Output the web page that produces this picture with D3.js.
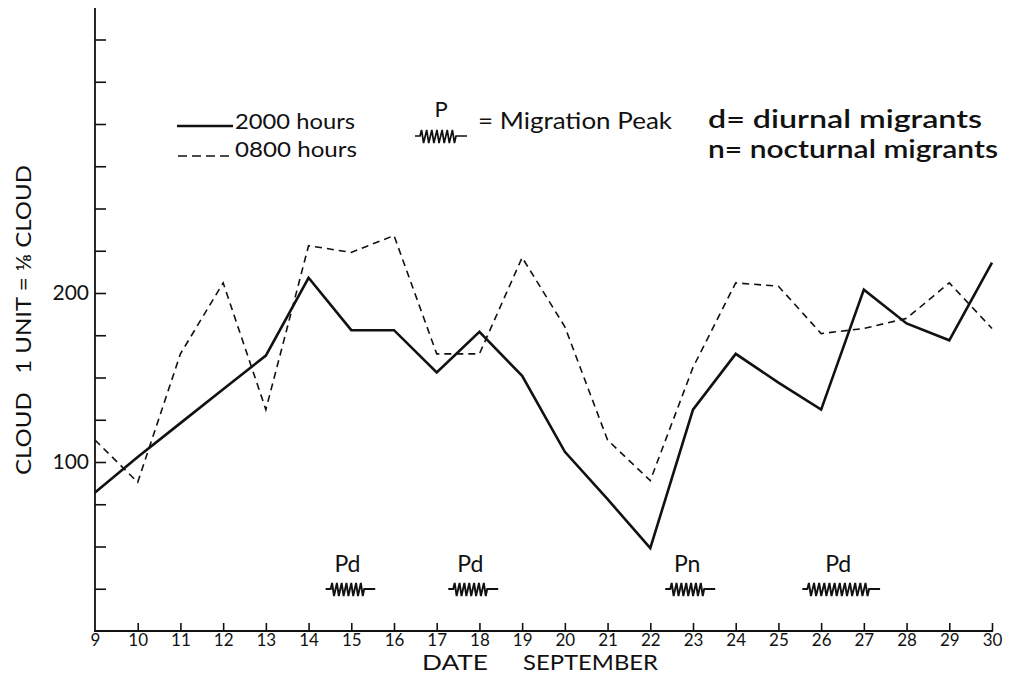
<!DOCTYPE html>
<html>
<head>
<meta charset="utf-8">
<script src="https://cdn.jsdelivr.net/npm/d3@7"></script>
<style>
  html, body { margin: 0; padding: 0; background: #fff; }
  svg { display: block; font-family: Lato, "Open Sans", sans-serif; }
</style>
</head>
<body>
<svg id="chart" width="1011" height="680"></svg>
<script>
// Days of September
const days = [9, 10, 11, 12, 13, 14, 15, 16, 17, 18, 19, 20, 21, 22, 23, 24, 25, 26, 27, 28, 29, 30];
// Cloud readings (1 unit = 1/8 cloud)
const cloud2000 = [82, 103, 123, 143, 163, 209, 178, 178, 153, 177, 151, 106, 78, 49, 131, 164, 147, 131, 202, 182, 172, 218];
const cloud0800 = [113, 88, 164, 206, 131, 228, 224, 234, 164, 164, 221, 180, 113, 89, 156, 206, 204, 176, 179, 185, 206, 179];
// Y tick values (every 25 units) and the labelled ones
const yTicks = [25, 50, 75, 100, 125, 150, 175, 200, 225, 250, 275, 300, 325, 350];
const yLabelled = [100, 200];
// Migration peaks: label, start day, end day
const peakLabels = ["Pd", "Pd", "Pn", "Pd"];
const peakStart = [14.4, 17.27, 22.35, 25.56];
const peakEnd = [15.56, 18.44, 23.52, 27.38];

const svg = d3.select("#chart");
const x = d3.scaleLinear().domain([9, 30]).range([95, 992]);
const y = d3.scaleLinear().domain([0, 200]).range([631, 293]);
const ink = "#111";

// Y axis: ticks point inward, only 100 and 200 are labelled
const yAxis = d3.axisLeft(y).tickValues(yTicks).tickSize(-11)
  .tickFormat(d => yLabelled.includes(d) ? d : "");
const gy = svg.append("g").attr("transform", "translate(95,0)").call(yAxis);
gy.select(".domain").remove();
gy.selectAll(".tick line").attr("stroke", ink).attr("stroke-width", 1.6);
gy.selectAll(".tick text").attr("x", -6).attr("fill", ink)
  .style("font-size", "21px").style("font-family", "Lato, sans-serif");
svg.append("line").attr("x1", 95).attr("x2", 95).attr("y1", 8).attr("y2", 632)
  .attr("stroke", ink).attr("stroke-width", 1.8);

// X axis: ticks point upward
const xAxis = d3.axisBottom(x).tickValues(days).tickSize(-8).tickFormat(d3.format("d"));
const gx = svg.append("g").attr("transform", "translate(0,631)").call(xAxis);
gx.select(".domain").remove();
gx.selectAll(".tick line").attr("stroke", ink).attr("stroke-width", 1.6);
gx.selectAll(".tick text").attr("y", 3).attr("fill", ink)
  .style("font-size", "17px").style("font-family", "Lato, sans-serif");
gx.selectAll(".tick").filter(d => d === 9).select("line").remove();
svg.append("line").attr("x1", 94).attr("x2", 993).attr("y1", 631).attr("y2", 631)
  .attr("stroke", ink).attr("stroke-width", 1.8);

// Axis titles
svg.append("text").attr("x", 422).attr("y", 670).attr("fill", ink)
  .style("font-size", "21px").attr("textLength", 66).attr("lengthAdjust", "spacingAndGlyphs")
  .text("DATE");
svg.append("text").attr("x", 523).attr("y", 670).attr("fill", ink)
  .style("font-size", "21px").attr("textLength", 135).attr("lengthAdjust", "spacingAndGlyphs")
  .text("SEPTEMBER");
svg.append("text").attr("transform", "translate(31,320) rotate(-90)")
  .attr("text-anchor", "middle").attr("fill", ink).style("font-size", "22px")
  .attr("xml:space", "preserve").attr("textLength", 310).attr("lengthAdjust", "spacingAndGlyphs")
  .text("CLOUD   1 UNIT = ⅛ CLOUD");

// Series lines
const line = d3.line().x((d, i) => x(days[i])).y(d => y(d));
svg.append("path").datum(cloud0800).attr("d", line).attr("fill", "none")
  .attr("stroke", ink).attr("stroke-width", 1.6).attr("stroke-dasharray", "7,5");
svg.append("path").datum(cloud2000).attr("d", line).attr("fill", "none")
  .attr("stroke", ink).attr("stroke-width", 2.6).attr("stroke-linejoin", "miter");

// Zig-zag "migration peak" symbol between x0 and x1 at height cy
function springPath(x0, x1, cy) {
  const a = x0 + 5, b = x1 - 11;
  const n = Math.max(4, Math.round((b - a) / 5));
  const step = (b - a) / n;
  let p = `M${x0},${cy}L${a},${cy}`;
  for (let i = 0; i < n; i++) {
    const xs = a + i * step;
    p += `L${xs + step * 0.3},${cy - 6}L${xs + step * 0.7},${cy + 7}`;
  }
  p += `L${b},${cy}L${x1},${cy}`;
  return p;
}

const peaks = svg.append("g");
peakLabels.forEach((lab, i) => {
  const x0 = x(peakStart[i]), x1 = x(peakEnd[i]);
  peaks.append("path").attr("d", springPath(x0, x1, 589)).attr("fill", "none")
    .attr("stroke", ink).attr("stroke-width", 1.9);
  peaks.append("text").attr("x", (x0 + x1) / 2 - 3).attr("y", 572)
    .attr("text-anchor", "middle").attr("fill", ink).style("font-size", "23px")
    .text(lab);
});

// Legend
const lg = svg.append("g");
lg.append("line").attr("x1", 177).attr("x2", 233).attr("y1", 126).attr("y2", 126)
  .attr("stroke", ink).attr("stroke-width", 2.6);
lg.append("text").attr("x", 235).attr("y", 129).attr("fill", ink)
  .style("font-size", "22px").attr("textLength", 120).attr("lengthAdjust", "spacingAndGlyphs")
  .text("2000 hours");
lg.append("line").attr("x1", 178).attr("x2", 234).attr("y1", 156).attr("y2", 156)
  .attr("stroke", ink).attr("stroke-width", 1.4).attr("stroke-dasharray", "9,5");
lg.append("text").attr("x", 235).attr("y", 157).attr("fill", ink)
  .style("font-size", "22px").attr("textLength", 122).attr("lengthAdjust", "spacingAndGlyphs")
  .text("0800 hours");

lg.append("text").attr("x", 441).attr("y", 117).attr("text-anchor", "middle")
  .attr("fill", ink).style("font-size", "22px").text("P");
lg.append("path").attr("d", springPath(415, 467, 136)).attr("fill", "none")
  .attr("stroke", ink).attr("stroke-width", 1.7);
lg.append("text").attr("x", 478).attr("y", 129).attr("fill", ink)
  .style("font-size", "23px").attr("textLength", 194).attr("lengthAdjust", "spacingAndGlyphs")
  .text("= Migration Peak");

lg.append("text").attr("x", 708).attr("y", 128).attr("fill", ink)
  .style("font-size", "25px").style("font-weight", 600)
  .attr("textLength", 274).attr("lengthAdjust", "spacingAndGlyphs")
  .text("d= diurnal migrants");
lg.append("text").attr("x", 708).attr("y", 158).attr("fill", ink)
  .style("font-size", "25px").style("font-weight", 600)
  .attr("textLength", 290).attr("lengthAdjust", "spacingAndGlyphs")
  .text("n= nocturnal migrants");
</script>
</body>
</html>
